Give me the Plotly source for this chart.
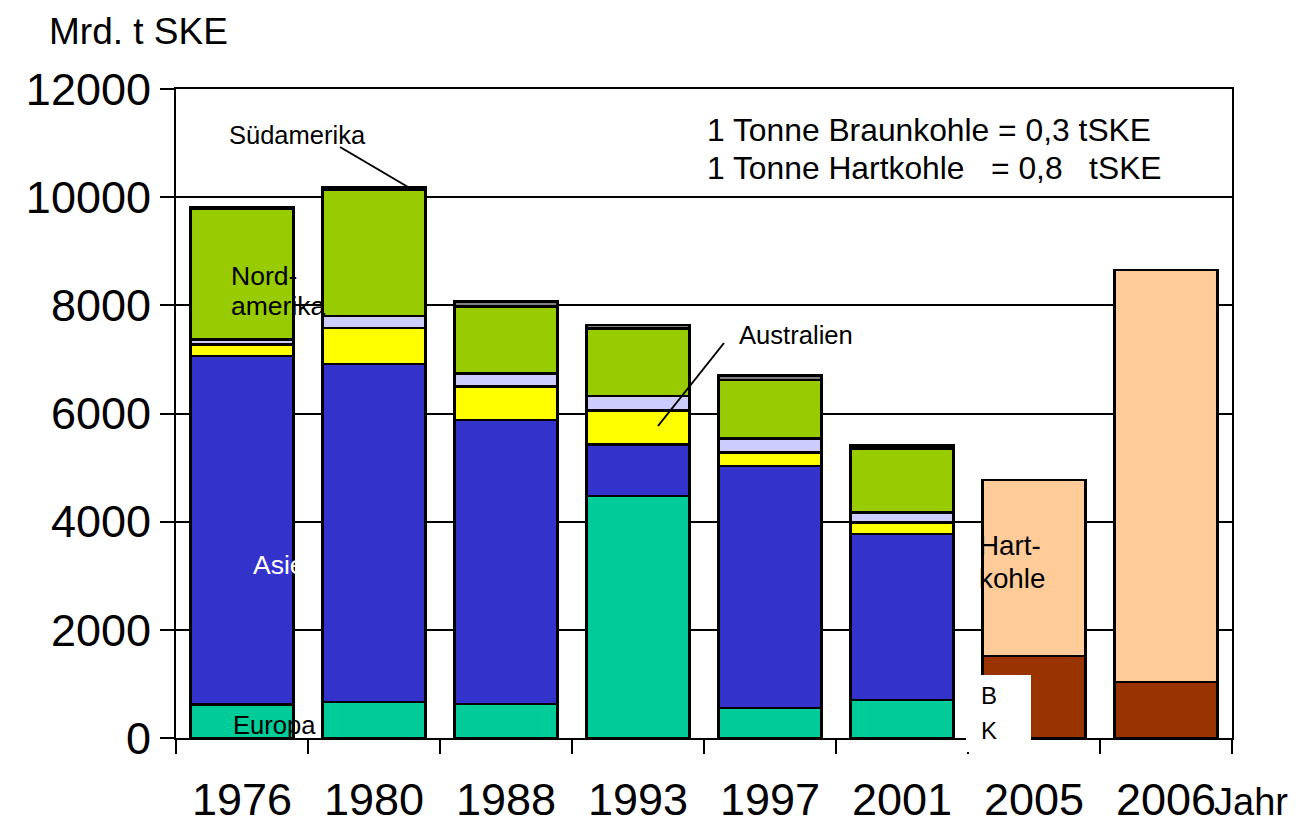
import plotly.graph_objects as go

# Kohleförderung nach Regionen (Mrd. t SKE)
years = ["1976", "1980", "1988", "1993", "1997", "2001", "2005", "2006"]
europa = [620, 670, 630, 4475, 555, 703, None, None]
asien = [6440, 6245, 5250, 956, 4475, 3069, None, None]
australien = [220, 666, 616, 621, 245, 209, None, None]
afrika = [85, 221, 244, 272, 267, 192, None, None]
nordamerika = [2430, 2330, 1239, 1252, 1078, 1184, None, None]
suedamerika = [20, 47, 89, 61, 79, 55, None, None]
braunkohle = [None, None, None, None, None, None, 1520, 1040]
hartkohle = [None, None, None, None, None, None, 3250, 7610]

y_ticks = [0, 2000, 4000, 6000, 8000, 10000, 12000]

FONT = "Liberation Sans, Arial, sans-serif"
OFF = 8  # page body margin
W, H = 1298 - OFF, 827 - OFF
L, R, T, B = 176, 1232, 89, 738  # plot area in page pixels


def px(x):
    return (x - L) / (R - L)


def py(y):
    return (B - y) / (B - T)


series = [
    ("Europa", europa, "#00CC99"),
    ("Asien", asien, "#3333CC"),
    ("Australien", australien, "#FFFF00"),
    ("Afrika", afrika, "#CCCCFF"),
    ("Nordamerika", nordamerika, "#99CC00"),
    ("Südamerika", suedamerika, "#808080"),
    ("Braunkohle", braunkohle, "#993300"),
    ("Hartkohle", hartkohle, "#FFCC99"),
]

fig = go.Figure()
for name, vals, col in series:
    fig.add_trace(go.Bar(
        x=years, y=vals, name=name,
        marker=dict(color=col, line=dict(color="black", width=2.5)),
    ))

fig.update_layout(
    barmode="stack",
    bargap=0.22,
    width=W, height=H,
    margin=dict(l=L - OFF, r=W - (R - OFF), t=T - OFF, b=H - (B - OFF)),
    plot_bgcolor="white", paper_bgcolor="white",
    showlegend=False,
    font=dict(family=FONT, color="black"),
)
fig.update_xaxes(
    type="category", automargin=False,
    showline=True, linecolor="black", linewidth=2, mirror=True,
    ticks="outside", tickson="boundaries", ticklen=14, tickwidth=2, tickcolor="black",
    tickfont=dict(size=45, family=FONT),
    ticklabelstandoff=21,
    showgrid=False,
)
fig.update_yaxes(
    range=[0, 12000], tickvals=y_ticks, tickformat="d", automargin=False,
    showline=True, linecolor="black", linewidth=2, mirror=True,
    ticks="outside", ticklen=14, tickwidth=2, tickcolor="black",
    tickfont=dict(size=45, family=FONT),
    showgrid=True, gridcolor="black", gridwidth=2,
    zeroline=False,
)

# white box behind the "B K" label
fig.add_shape(type="rect", xref="paper", yref="paper",
              x0=px(966), x1=px(1031), y0=py(752), y1=py(675),
              fillcolor="white", line=dict(width=0), layer="above")

# leader lines
fig.add_shape(type="line", xref="paper", yref="paper",
              x0=px(340), y0=py(147), x1=px(408), y1=py(187),
              line=dict(color="black", width=2))
fig.add_shape(type="line", xref="paper", yref="paper",
              x0=px(724), y0=py(343), x1=px(658), y1=py(426),
              line=dict(color="black", width=2))

labels = [
    ("Mrd. t SKE", 47, 32, 37, "black"),
    ("Südamerika", 227, 135, 25.5, "black"),
    ("Nord-", 229, 276, 26.5, "black"),
    ("amerika", 229, 306, 26.5, "black"),
    ("Asien", 251, 565, 26.5, "white"),
    ("Europa", 231, 725, 25.6, "black"),
    ("Australien", 737, 335, 25.6, "black"),
    ("1 Tonne Braunkohle = 0,3 tSKE", 705, 130, 31.8, "black"),
    ("1 Tonne Hartkohle\u00a0\u00a0\u00a0= 0,8\u00a0\u00a0\u00a0tSKE", 705, 168, 31.8, "black"),
    ("Hart-", 977, 545, 27.8, "black"),
    ("kohle", 977, 578, 27.8, "black"),
    ("B", 979, 695, 24, "black"),
    ("K", 979, 730, 24, "black"),
    ("Jahr", 1212, 802, 38, "black"),
]
for text, x, y, size, col in labels:
    fig.add_annotation(
        text=text, xref="paper", yref="paper", x=px(x), y=py(y),
        xanchor="left", yanchor="middle", showarrow=False,
        font=dict(size=size, color=col, family=FONT),
    )

fig.write_html("out.html")
